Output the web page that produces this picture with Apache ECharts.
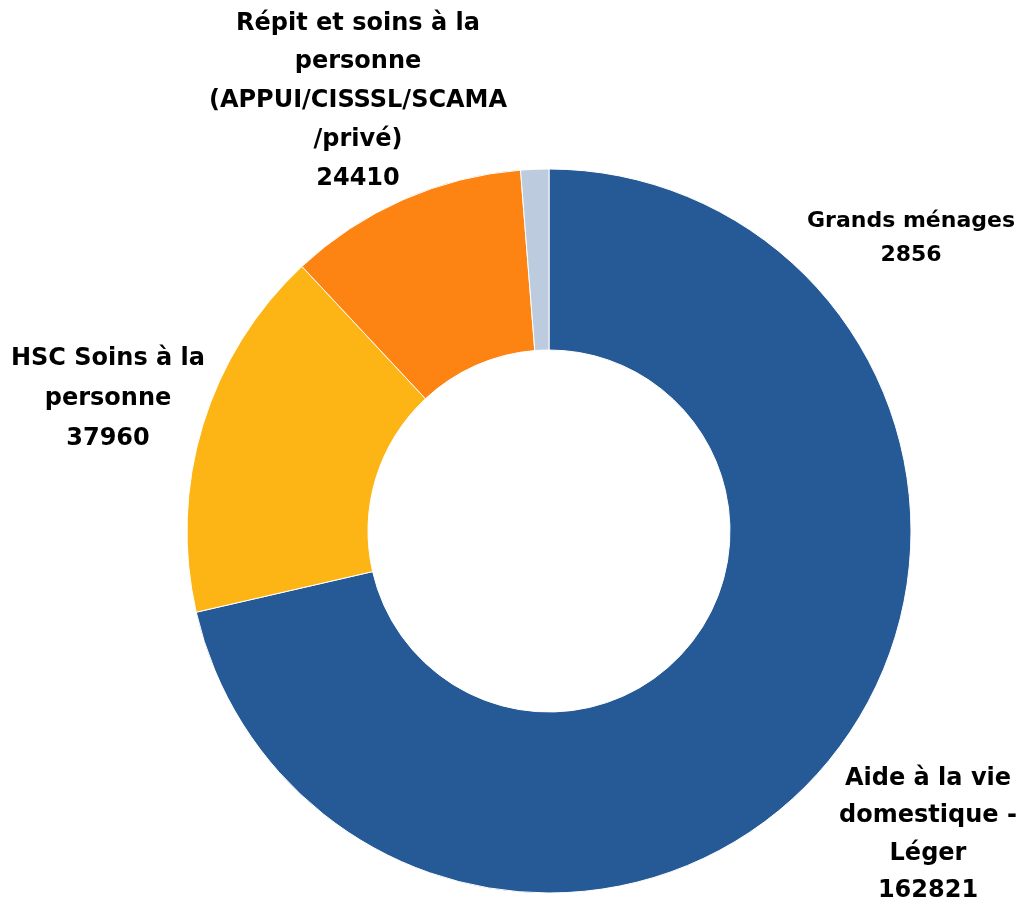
<!DOCTYPE html>
<html>
<head>
<meta charset="utf-8">
<script src="https://cdn.jsdelivr.net/npm/echarts@6/dist/echarts.min.js"></script>
<style>html,body{margin:0;padding:0;background:#fff}#c{width:1024px;height:905px}</style>
</head>
<body>
<div id="c"></div>
<script>
var categories = ['Aide à la vie domestique - Léger', 'HSC Soins à la personne', 'Répit et soins à la personne (APPUI/CISSSL/SCAMA/privé)', 'Grands ménages'];
var values = [162821, 37960, 24410, 2856];
var labelText = ['Aide à la vie\ndomestique -\nLéger', 'HSC Soins à la\npersonne', 'Répit et soins à la\npersonne\n(APPUI/CISSSL/SCAMA\n/privé)', 'Grands ménages'];
var colors = ['#255A97', '#FDB515', '#FD8413', '#BDCBDE'];

var labelPos = [[928, 835], [108, 399], [358, 101], [911, 238]];
var labelSize = [24, 24, 24, 22];
var labelLH = [37.5, 40, 38.8, 34];

var chart = echarts.init(document.getElementById('c'), null, {renderer: 'canvas'});
chart.setOption({
  animation: false,
  backgroundColor: '#ffffff',
  series: [{
    type: 'pie',
    center: [549, 531],
    radius: [181, 362],
    startAngle: 90,
    clockwise: true,
    avoidLabelOverlap: false,
    itemStyle: {borderColor: '#ffffff', borderWidth: 1},
    labelLine: {show: false},
    data: categories.map(function (n, i) {
      return {
        name: n,
        value: values[i],
        itemStyle: {color: colors[i]},
        label: {
          show: true,
          position: 'outside',
          formatter: labelText[i] + '\n' + values[i],
          fontFamily: 'DejaVu Sans',
          fontWeight: 'bold',
          fontSize: labelSize[i],
          lineHeight: labelLH[i],
          color: '#000000',
          align: 'center'
        }
      };
    })
  }]
});
chart.setOption({
  series: [{
    labelLayout: function (p) {
      var pos = labelPos[p.dataIndex];
      return {x: pos[0], y: pos[1], align: 'center', verticalAlign: 'middle'};
    }
  }]
});
</script>
</body>
</html>
